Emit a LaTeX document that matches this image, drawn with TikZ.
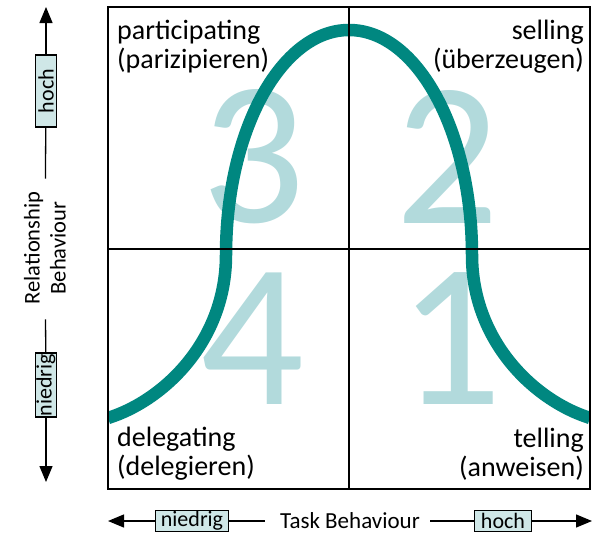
\documentclass[tikz,border=0pt]{standalone}
\usepackage{fontspec}
\setmainfont{Carlito}
\usetikzlibrary{arrows.meta,positioning}
\definecolor{curveteal}{RGB}{0,135,128}
\definecolor{digitteal}{RGB}{178,218,220}
\definecolor{boxteal}{RGB}{207,231,231}

\begin{document}
\begin{tikzpicture}[x=1pt,y=-1pt,
  digit/.style={text=digitteal,font=\fontsize{205}{205}\selectfont,inner sep=0pt},
  quad/.style={font=\fontsize{28}{29}\selectfont,inner sep=0pt},
  level/.style={draw,fill=boxteal,line width=1.3pt,font=\fontsize{22}{22}\selectfont,inner sep=0pt,minimum height=21pt},
  axis/.style={font=\fontsize{23}{26}\selectfont,inner sep=0pt,align=center},
  axline/.style={line width=1.3pt},
  tip/.style={-{Triangle[length=16pt,width=13pt]}}]
\useasboundingbox (0,0) rectangle (594,533);

\node[digit] (q3) at (253,157) {3};
\node[digit] (q2) at (447,157) {2};
\node[digit] (q4) at (252,339) {4};
\node[digit] (q1) at (450,339) {1};

\begin{scope}
\clip (108,7) rectangle (590,489);
\draw[curveteal,line width=12.5pt] (108,418) .. controls (165,400) and (226,340) .. (226,255)
  .. controls (226,131) and (281,30) .. (349,30)
  .. controls (417,30) and (472,131) .. (472,255)
  .. controls (472,340) and (533,400) .. (590,418);
\end{scope}

\draw[line width=1.8pt] (108,7) rectangle (590,489);
\draw[line width=1.4pt] (349,7) -- (349,489);
\draw[line width=1.4pt] (108,249) -- (590,249);

\node[quad,align=left,anchor=north west] (part) at (117,20) {participating\\(parizipieren)};
\node[quad,align=right,anchor=north east] (sell) at (584,20) {selling\\(überzeugen)};
\node[quad,align=left,anchor=south west] (dele) at (117,481) {delegating\\(delegieren)};
\node[quad,align=right,anchor=south east] (tell) at (584,481) {telling\\(anweisen)};

\coordinate (tleft) at (108,521);
\coordinate (tright) at (592,521);
\node[level,minimum width=73pt] (tlow) at (192,521) {niedrig};
\node[level,minimum width=57pt] (thigh) at (503,521) {hoch};
\node[axis] (tlabel) at (350,521) {Task Behaviour};
\draw[axline,tip] (tlow) -- (tleft);
\draw[axline,tip] (thigh) -- (tright);
\draw[axline,shorten >=15pt] (tlow) -- (tlabel);
\draw[axline,shorten >=10pt] (thigh) -- (tlabel);

\coordinate (rtop) at (46,7);
\coordinate (rbottom) at (46,482);
\node[level,rotate=90,minimum width=72pt] (rhigh) at (46,91) {hoch};
\node[level,rotate=90,minimum width=64pt] (rlow) at (46,385) {niedrig};
\node[axis,rotate=90,font=\fontsize{22.5}{26}\selectfont] (rlabel) at (45,248) {Relationship\\Behaviour};
\draw[axline,tip] (rhigh) -- (rtop);
\draw[axline,tip] (rlow) -- (rbottom);
\draw[axline,shorten >=13pt] (rhigh) -- (rlabel);
\draw[axline,shorten >=15pt] (rlow) -- (rlabel);
\end{tikzpicture}
\end{document}
